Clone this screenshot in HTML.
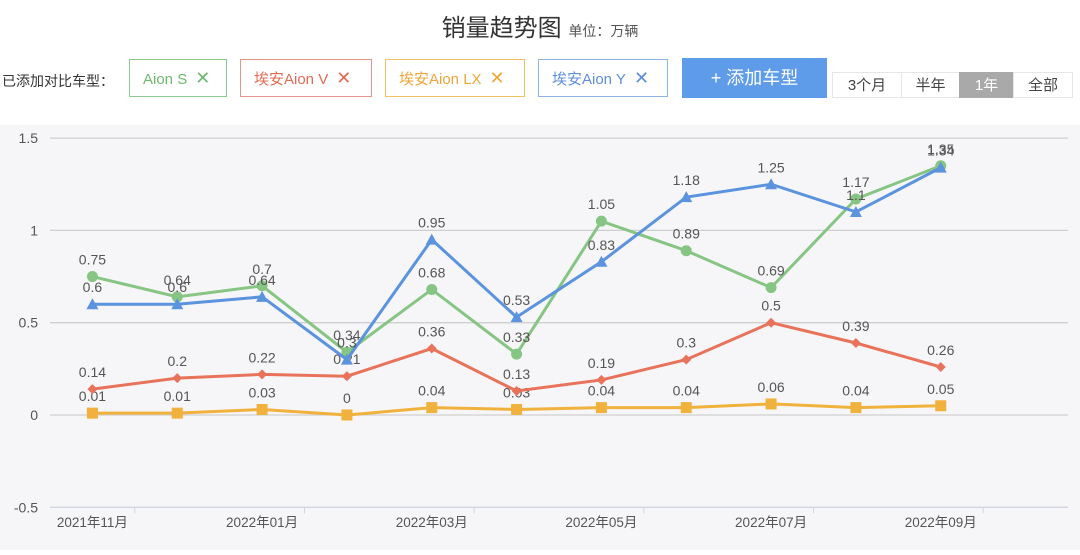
<!DOCTYPE html>
<html><head><meta charset="utf-8">
<style>
body{margin:0;width:1080px;height:555px;background:#fff;font-family:"Liberation Sans","Noto Sans CJK SC",sans-serif;overflow:hidden;position:relative}
.t{position:absolute;top:8px;left:0;width:1080px;text-align:center;font-size:24px;color:#333}
.t span{font-size:14px;color:#555}
.lbl{position:absolute;left:2px;top:71px;font-size:14px;color:#333}
.tag{position:absolute;top:59px;height:38px;box-sizing:border-box;border:1px solid;font-size:15px;line-height:36px;padding-left:13px;background:#fff}
.tag b{font-weight:normal;font-size:18px;margin-left:8px}
.add{position:absolute;left:682px;top:58px;width:145px;height:40px;background:#5e9be8;color:#fff;font-size:18px;line-height:40px;text-align:center}
.seg{position:absolute;top:72px;height:26px;border:1px solid #e6e6e6;font-size:15px;line-height:26px;text-align:center;color:#444;box-sizing:border-box;background:#fff}
.chart{position:absolute;left:0;top:125px;width:1080px;height:425px;background:#f6f6f8}
</style></head><body>
<div class="t">销量趋势图 <span>单位：万辆</span></div>
<div class="lbl">已添加对比车型：</div>
<div class="tag" style="left:129px;width:98px;border-color:#8cc98c;color:#6fb86f">Aion S<b>✕</b></div>
<div class="tag" style="left:240px;width:132px;border-color:#e3968a;color:#e06b55">埃安Aion V<b>✕</b></div>
<div class="tag" style="left:385px;width:140px;border-color:#f0c064;color:#eda53a">埃安Aion LX<b>✕</b></div>
<div class="tag" style="left:538px;width:130px;border-color:#8fb2e4;color:#5e8fd8">埃安Aion Y<b>✕</b></div>
<div class="add">+ 添加车型</div>
<div class="seg" style="left:832px;width:70px">3个月</div>
<div class="seg" style="left:901px;width:59px">半年</div>
<div class="seg" style="left:959px;width:55px;background:#a9a9a9;color:#fff;border-color:#a9a9a9">1年</div>
<div class="seg" style="left:1013px;width:60px">全部</div>
<div class="chart"></div>
<svg id="svg" width="1080" height="555" style="position:absolute;left:0;top:0"></svg>
<script>
const categories=["2021年11月","2021年12月","2022年01月","2022年02月","2022年03月","2022年04月","2022年05月","2022年06月","2022年07月","2022年08月","2022年09月"];
const aionS=[0.75,0.64,0.7,0.34,0.68,0.33,1.05,0.89,0.69,1.17,1.35];
const aionV=[0.14,0.2,0.22,0.21,0.36,0.13,0.19,0.3,0.5,0.39,0.26];
const aionLX=[0.01,0.01,0.03,0,0.04,0.03,0.04,0.04,0.06,0.04,0.05];
const aionY=[0.6,0.6,0.64,0.3,0.95,0.53,0.83,1.18,1.25,1.1,1.34];
const yTicks=[1.5,1,0.5,0,-0.5];
const NS="http://www.w3.org/2000/svg";const svg=document.getElementById('svg');
const x0=50,x1=1068,step=(x1-x0)/12;
const xs=i=>x0+step*(i+0.5);
const ys=v=>415-v*184.6;
function mk(t,a,p){const e=document.createElementNS(NS,t);for(const k in a)e.setAttribute(k,a[k]);(p||svg).appendChild(e);return e;}
yTicks.forEach(v=>{
 const g=mk('line',{x1:x0,x2:x1,y1:ys(v),y2:ys(v),stroke:v===-0.5?'#d0d4e4':'#cfcfcf','stroke-width':1.3});
 
 
 const t=mk('text',{x:38,y:ys(v)+5,'text-anchor':'end','font-size':14,fill:'#555'});t.textContent=v;
 
 
});
categories.forEach((c,i)=>{
 if(i%2===0){
  const t=mk('text',{x:xs(i),y:527,'text-anchor':'middle','font-size':13.5,fill:'#555'});t.textContent=c;
  
  
  mk('line',{x1:xs(i)+step/2,x2:xs(i)+step/2,y1:ys(-0.5),y2:ys(-0.5)+6,stroke:'#d0d4e4'});
 }
});
const series=[[aionLX,'#f0b23c','sq','series-aion-lx'],[aionV,'#e8735a','dia','series-aion-v'],[aionS,'#86c583','circ','series-aion-s'],[aionY,'#5b93de','tri','series-aion-y']];
series.forEach(([d,col,sh,name])=>{
 const g=mk('g',{});
 
 
 mk('polyline',{points:d.map((v,i)=>xs(i)+','+ys(v)).join(' '),fill:'none',stroke:col,'stroke-width':3},g);
 d.forEach((v,i)=>{
  const x=xs(i),y=ys(v);let m;
  if(sh==='sq')m=mk('rect',{x:x-5.5,y:y-5.5,width:11,height:11,fill:col},g);
  else if(sh==='dia')m=mk('polygon',{points:`${x},${y-5} ${x+5},${y} ${x},${y+5} ${x-5},${y}`,fill:col},g);
  else if(sh==='circ')m=mk('circle',{cx:x,cy:y,r:5.5,fill:col},g);
  else m=mk('polygon',{points:`${x},${y-6} ${x+6},${y+5} ${x-6},${y+5}`,fill:col},g);
  
  
  const t=mk('text',{x:x,y:y-12,'text-anchor':'middle','font-size':14,fill:'#555'},g);t.textContent=v;
  
  
 });
});
</script>
</body></html>
